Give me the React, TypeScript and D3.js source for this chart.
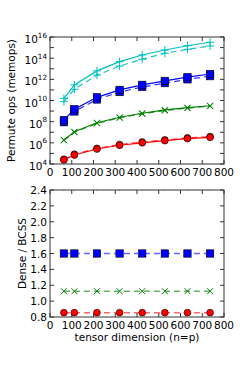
import React from "react";
import * as d3 from "d3";

const dims = [64, 112, 216, 320, 424, 528, 632, 736];

// Top panel: permute ops (memops); solid = dense, dashed = BCSS
const redSolid = [2.4e4, 7.1e4, 2.6e5, 5.9e5, 1.0e6, 1.6e6, 2.5e6, 3.3e6];
const redDashed = [2.8e4, 8.3e4, 3.0e5, 6.9e5, 1.2e6, 1.9e6, 2.9e6, 3.9e6];
const greenSolid = [1.9e6, 1.1e7, 7.9e7, 2.6e8, 6.2e8, 1.3e9, 2.1e9, 3.2e9];
const greenDashed = [1.7e6, 1.0e7, 7.0e7, 2.3e8, 5.5e8, 1.1e9, 1.9e9, 2.9e9];
const blueSolid = [1.4e8, 1.5e9, 2.0e10, 1.0e11, 3.0e11, 7.1e11, 1.6e12, 3.2e12];
const blueDashed = [8.9e7, 9.2e8, 1.25e10, 6.3e10, 1.9e11, 4.4e11, 1.0e12, 2.0e12];
const cyanSolid = [1.6e10, 3.0e11, 6.3e12, 4.7e13, 2.0e14, 5.9e14, 1.5e15, 3.2e15];
const cyanDashed = [7.8e9, 1.15e11, 2.5e12, 1.8e13, 7.9e13, 2.9e14, 6.9e14, 1.4e15];

// Bottom panel: Dense / BCSS ratio
const redRatio = [0.855, 0.855, 0.855, 0.855, 0.855, 0.855, 0.855, 0.855];
const greenRatio = [1.125, 1.125, 1.125, 1.125, 1.125, 1.125, 1.125, 1.125];
const blueRatio = [1.6, 1.6, 1.6, 1.6, 1.6, 1.6, 1.6, 1.6];
const cyanRatio = [2.44, 2.44, 2.44, 2.44, 2.44, 2.44, 2.44, 2.44];

const xTicks = [0, 100, 200, 300, 400, 500, 600, 700, 800];
const logTickExps = [4, 5, 6, 7, 8, 9, 10, 11, 12, 13, 14, 15, 16];
const logLabelExps = [4, 6, 8, 10, 12, 14, 16];
const ratioTicks = [0.8, 1.0, 1.2, 1.4, 1.6, 1.8, 2.0, 2.2, 2.4];

const FONT = "'DejaVu Sans', sans-serif";
const FS = 10.5;
const C = { r: "#ff0000", g: "#008000", b: "#0000ff", c: "#00bfbf" };

const L = 50, R = 224;
const top1 = 37, bot1 = 164;
const top2 = 190, bot2 = 317;

const x = d3.scaleLinear().domain([0, 800]).range([L, R]);
const yLog = d3.scaleLog().domain([1e4, 1e16]).range([bot1, top1]);
const yR = d3.scaleLinear().domain([0.8, 2.4]).range([bot2, top2]);

type Marker = "o" | "s" | "x" | "+";

function MarkerShape({ m, cx, cy, color }: { m: Marker; cx: number; cy: number; color: string }) {
  if (m === "o") return <circle cx={cx} cy={cy} r={3.4} fill={color} stroke="#000" strokeWidth={0.6} />;
  if (m === "s") return <rect x={cx - 3.7} y={cy - 3.7} width={7.4} height={7.4} fill={color} stroke="#000" strokeWidth={0.6} />;
  if (m === "x")
    return (
      <path d={`M${cx - 3},${cy - 3}L${cx + 3},${cy + 3}M${cx - 3},${cy + 3}L${cx + 3},${cy - 3}`} stroke={color} strokeWidth={1} fill="none" />
    );
  return <path d={`M${cx - 4},${cy}L${cx + 4},${cy}M${cx},${cy - 4}L${cx},${cy + 4}`} stroke={color} strokeWidth={1} fill="none" />;
}

function Series({
  vals, y, color, m, dashed, lineOpacity = 1, lw = 1.2,
}: { vals: number[]; y: (v: number) => number; color: string; m: Marker; dashed?: boolean; lineOpacity?: number; lw?: number }) {
  const line = d3.line<number>().x((_, i) => x(dims[i])).y((v) => y(v));
  return (
    <g>
      <path d={line(vals) || ""} fill="none" stroke={color} strokeWidth={lw} strokeOpacity={lineOpacity} strokeDasharray={dashed ? "6,4" : undefined} />
      {vals.map((v, i) => (
        <MarkerShape key={i} m={m} cx={x(dims[i])} cy={y(v)} color={color} />
      ))}
    </g>
  );
}

function Frame({ t, b }: { t: number; b: number }) {
  return <rect x={L} y={t} width={R - L} height={b - t} fill="none" stroke="#333" strokeWidth={1} />;
}

function XTicks({ t, b }: { t: number; b: number }) {
  return (
    <g>
      {xTicks.map((v) => (
        <g key={v}>
          <line x1={x(v)} x2={x(v)} y1={b} y2={b - 4} stroke="#333" />
          <line x1={x(v)} x2={x(v)} y1={t} y2={t + 4} stroke="#333" />
          <text x={x(v)} y={b + 12} textAnchor="middle" fontSize={FS} fontFamily={FONT}>{v}</text>
        </g>
      ))}
    </g>
  );
}

export default function App() {
  return (
    <svg width={249} height={374} style={{ position: "absolute", left: 0, top: 0, background: "#fff" }}>
      <defs>
        <clipPath id="clip1"><rect x={L} y={top1} width={R - L} height={bot1 - top1} /></clipPath>
        <clipPath id="clip2"><rect x={L} y={top2} width={R - L} height={bot2 - top2} /></clipPath>
      </defs>
      <rect width={249} height={374} fill="#fff" />

      {/* Top panel */}
      <g clipPath="url(#clip1)">
        <Series vals={redDashed} y={yLog} color={C.r} m="o" dashed lineOpacity={0.8} />
        <Series vals={redSolid} y={yLog} color={C.r} m="o" />
        <Series vals={greenDashed} y={yLog} color={C.g} m="x" dashed lineOpacity={0.8} />
        <Series vals={greenSolid} y={yLog} color={C.g} m="x" />
        <Series vals={blueDashed} y={yLog} color={C.b} m="s" dashed lineOpacity={0.8} />
        <Series vals={blueSolid} y={yLog} color={C.b} m="s" />
        <Series vals={cyanDashed} y={yLog} color={C.c} m="+" dashed lineOpacity={0.9} />
        <Series vals={cyanSolid} y={yLog} color={C.c} m="+" />
      </g>
      <Frame t={top1} b={bot1} />
      <XTicks t={top1} b={bot1} />
      {logTickExps.map((e) => {
        const yy = yLog(Math.pow(10, e));
        return (
          <g key={e}>
            <line x1={L} x2={L + 4} y1={yy} y2={yy} stroke="#333" />
            <line x1={R} x2={R - 4} y1={yy} y2={yy} stroke="#333" />
          </g>
        );
      })}
      {logLabelExps.map((e) => {
        const yy = yLog(Math.pow(10, e));
        return (
          <text key={e} x={47} y={yy + 6} textAnchor="end" fontSize={FS} fontFamily={FONT}>
            10<tspan fontSize={7.2} dy={-5.5}>{e}</tspan>
          </text>
        );
      })}
      <text transform={`translate(14.5,${(top1 + bot1) / 2}) rotate(-90)`} textAnchor="middle" fontSize={FS} fontFamily={FONT}>
        Permute ops (memops)
      </text>

      {/* Bottom panel */}
      <g clipPath="url(#clip2)">
        <Series vals={redRatio} y={yR} color={C.r} m="o" dashed lineOpacity={0.6} lw={1.5} />
        <Series vals={greenRatio} y={yR} color={C.g} m="x" dashed lineOpacity={0.6} lw={1.5} />
        <Series vals={blueRatio} y={yR} color={C.b} m="s" dashed lineOpacity={0.6} lw={1.5} />
        <Series vals={cyanRatio} y={yR} color={C.c} m="+" dashed lineOpacity={0.6} lw={1.5} />
      </g>
      <Frame t={top2} b={bot2} />
      <XTicks t={top2} b={bot2} />
      {ratioTicks.map((v) => {
        const yy = yR(v);
        return (
          <g key={v}>
            <line x1={L} x2={L + 4} y1={yy} y2={yy} stroke="#333" />
            <line x1={R} x2={R - 4} y1={yy} y2={yy} stroke="#333" />
            <text x={47} y={yy + 4} textAnchor="end" fontSize={FS} fontFamily={FONT}>{v.toFixed(1)}</text>
          </g>
        );
      })}
      <text transform={`translate(25.5,${(top2 + bot2) / 2}) rotate(-90)`} textAnchor="middle" fontSize={FS} fontFamily={FONT}>
        Dense / BCSS
      </text>
      <text x={(L + R) / 2} y={341} textAnchor="middle" fontSize={FS} fontFamily={FONT}>
        tensor dimension (n=p)
      </text>
    </svg>
  );
}
